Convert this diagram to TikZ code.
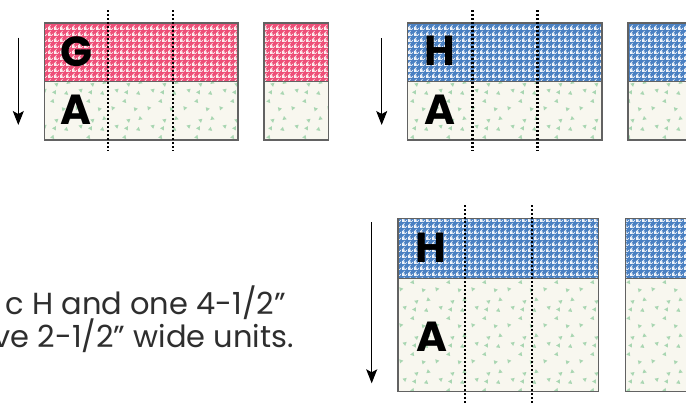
\documentclass[tikz,border=0pt]{standalone}
\usepackage{fontspec}
\setmainfont{Poppins}
\usetikzlibrary{patterns,arrows.meta}
\definecolor{pinkf}{HTML}{EE4F78}
\definecolor{pinkw}{HTML}{FCEFF0}
\definecolor{bluef}{HTML}{4A80C2}
\definecolor{bluew}{HTML}{F2F5FA}
\definecolor{creamf}{HTML}{F8F7EF}
\definecolor{trig}{HTML}{A9D6B2}
\definecolor{bordc}{HTML}{626262}
\definecolor{txtc}{HTML}{2E2E2E}
\pgfdeclarepatternformonly{hound}{\pgfpointorigin}{\pgfqpoint{6pt}{6pt}}{\pgfqpoint{6pt}{6pt}}{%
  \pgfpathrectangle{\pgfpointorigin}{\pgfqpoint{3pt}{3pt}}%
  \pgfpathmoveto{\pgfqpoint{3pt}{0pt}}\pgfpathlineto{\pgfqpoint{4.2pt}{0pt}}%
  \pgfpathlineto{\pgfqpoint{6pt}{1.8pt}}\pgfpathlineto{\pgfqpoint{6pt}{3pt}}\pgfpathclose
  \pgfpathmoveto{\pgfqpoint{0pt}{3pt}}\pgfpathlineto{\pgfqpoint{1.2pt}{3pt}}%
  \pgfpathlineto{\pgfqpoint{3pt}{4.8pt}}\pgfpathlineto{\pgfqpoint{3pt}{6pt}}\pgfpathclose
  \pgfusepath{fill}}
\newcommand\qtri[3]{%
  \pgfmathsetmacro\qtA{#3}\pgfmathsetmacro\qtB{#3+120}\pgfmathsetmacro\qtC{#3+240}%
  \pgfpathmoveto{\pgfpointadd{\pgfqpoint{#1pt}{#2pt}}{\pgfpointpolar{\qtA}{2.5pt}}}%
  \pgfpathlineto{\pgfpointadd{\pgfqpoint{#1pt}{#2pt}}{\pgfpointpolar{\qtB}{2.5pt}}}%
  \pgfpathlineto{\pgfpointadd{\pgfqpoint{#1pt}{#2pt}}{\pgfpointpolar{\qtC}{2.5pt}}}%
  \pgfpathclose}
\pgfdeclarepatternformonly{tris}{\pgfpointorigin}{\pgfqpoint{36pt}{36pt}}{\pgfqpoint{36pt}{36pt}}{%
  \qtri{5}{6}{10}\qtri{17}{13}{70}\qtri{28}{5}{130}\qtri{31}{21}{200}%
  \qtri{9}{24}{40}\qtri{21}{30}{160}\qtri{33}{32}{100}\qtri{19}{22}{300}%
  \pgfusepath{fill}}
\newcommand\qblock[6]{%
  \fill[creamf] (#1,#4) rectangle (#2,#5);
  \fill[pattern=tris,pattern color=trig] (#1,#4) rectangle (#2,#5);
  \fill[#6f] (#1,#3) rectangle (#2,#4);
  \fill[pattern=hound,pattern color=#6w] (#1,#3) rectangle (#2,#4);
  \draw[edge] (#1,#3) rectangle (#2,#5);
  \draw[edge] (#1,#4) -- (#2,#4);}
\begin{document}
\begin{tikzpicture}[x=1pt,y=-1pt,
  edge/.style={draw=bordc,line width=1.3pt},
  cutline/.style={draw=black,line width=2.4pt,dash pattern=on 2.2pt off 1.8pt},
  downarrow/.style={draw=black,line width=1.2pt,-{Stealth[length=14pt,width=11pt,inset=3pt]}},
  lab/.style={inner sep=0pt,font=\bfseries\fontsize{42}{42}\selectfont,text=black},
  body/.style={inner sep=0pt,font=\fontsize{30.5}{36}\selectfont,text=txtc,anchor=base east}]
\useasboundingbox (0,0) rectangle (686,402);
\clip (0,0) rectangle (686,402);
% top row
\qblock{44.3}{238}{23}{81.3}{140}{pink}
\qblock{264}{328.3}{23}{81.3}{140}{pink}
\qblock{407.3}{602}{23}{81.3}{140}{blue}
\qblock{628}{700}{23}{81.3}{140}{blue}
% bottom row
\qblock{398}{598.7}{218.3}{278.3}{391.7}{blue}
\qblock{625.3}{700}{218.3}{278.3}{391.7}{blue}
% cut lines
\draw[cutline] (107.7,10) -- (107.7,150.7);
\draw[cutline] (172.7,10) -- (172.7,150.7);
\draw[cutline] (472.3,10) -- (472.3,150.7);
\draw[cutline] (537.3,10) -- (537.3,150.7);
\draw[cutline] (464.7,205) -- (464.7,405);
\draw[cutline] (531.7,205) -- (531.7,405);
% arrows
\coordinate (a1s) at (18.3,37.7); \coordinate (a1e) at (18.3,125);
\coordinate (a2s) at (381.7,38); \coordinate (a2e) at (381.7,125);
\coordinate (a3s) at (371.7,222.3); \coordinate (a3e) at (371.7,383.3);
\draw[downarrow] (a1s) -- (a1e);
\draw[downarrow] (a2s) -- (a2e);
\draw[downarrow] (a3s) -- (a3e);
% labels
\node[lab] (g1) at (76.5,51.7) {G};
\node[lab] (a1) at (76,110) {A};
\node[lab] (h2) at (439.7,51) {H};
\node[lab] (a2) at (440.2,110) {A};
\node[lab] (h3) at (431.3,247.5) {H};
\node[lab] (a3) at (431.7,336.7) {A};
% text
\node[body] (t1) at (286,314) {c H and one 4-1/2”};
\node[body] (t2) at (294,347) {ve 2-1/2” wide units.};
\end{tikzpicture}
\end{document}
